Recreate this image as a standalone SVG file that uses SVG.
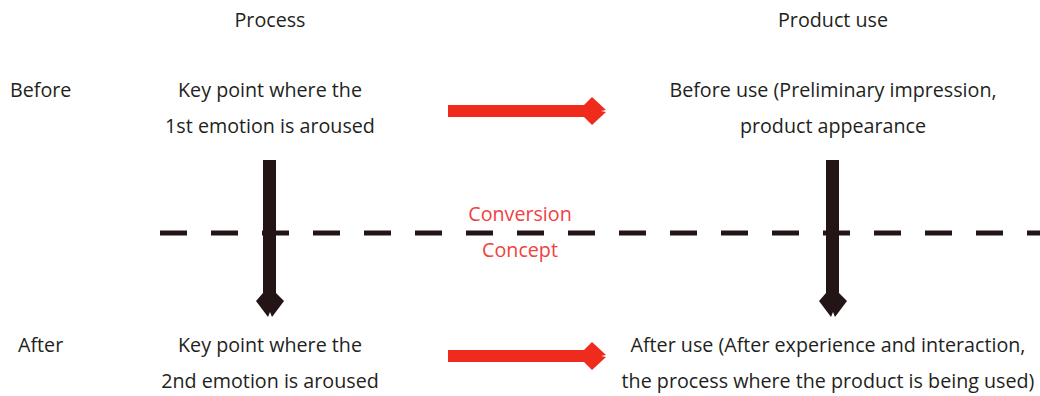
<svg xmlns="http://www.w3.org/2000/svg" width="1040" height="396" viewBox="0 0 1040 396">
<defs>
<style>
.t{font-family:"Open Sans","Noto Sans","Liberation Sans",sans-serif;font-size:19.7px;fill:#231f20;text-anchor:middle}
.l{text-anchor:start}
.r{fill:#f0413f}
.ra{fill:#ef2b1d}
.ba{fill:#231416}
</style>
</defs>
<rect width="1040" height="396" fill="#fff"/>
<g id="headers">
<text class="t" x="270" y="27">Process</text>
<text class="t" x="833" y="27">Product use</text>
<text class="t l" x="10" y="97">Before</text>
<text class="t l" x="18" y="352">After</text>
</g>
<g id="divider">
<line x1="160" y1="233" x2="1040" y2="233" stroke="#231416" stroke-width="5" stroke-dasharray="27 24"/>
<text class="t r" x="520" y="221">Conversion</text>
<text class="t r" x="520" y="257">Concept</text>
</g>
<g id="node-process-before">
<text class="t" x="270" y="97">Key point where the</text>
<text class="t" x="270" y="133">1st emotion is aroused</text>
</g>
<g id="node-product-before">
<text class="t" x="833" y="97">Before use (Preliminary impression,</text>
<text class="t" x="833" y="133">product appearance</text>
</g>
<g id="node-process-after">
<text class="t" x="270" y="352">Key point where the</text>
<text class="t" x="270" y="388">2nd emotion is aroused</text>
</g>
<g id="node-product-after">
<text class="t" x="828" y="352">After use (After experience and interaction,</text>
<text class="t" x="828" y="388">the process where the product is being used)</text>
</g>
<g id="connectors">
<polygon class="ra" points="448,105 584,105 592,97 606,110 601,111 606,112 592,125 584,117 448,117"/>
<polygon class="ra" points="448,350 584,350 592,342 606,355 601,356 606,357 592,370 584,362 448,362"/>
<polygon class="ba" points="263,160 276,160 276,293 284,301 272,317 270,312 268,317 256,301 263,293"/>
<polygon class="ba" points="826,160 839,160 839,293 847,301 835,317 833,312 831,317 819,301 826,293"/>
</g>
</svg>
